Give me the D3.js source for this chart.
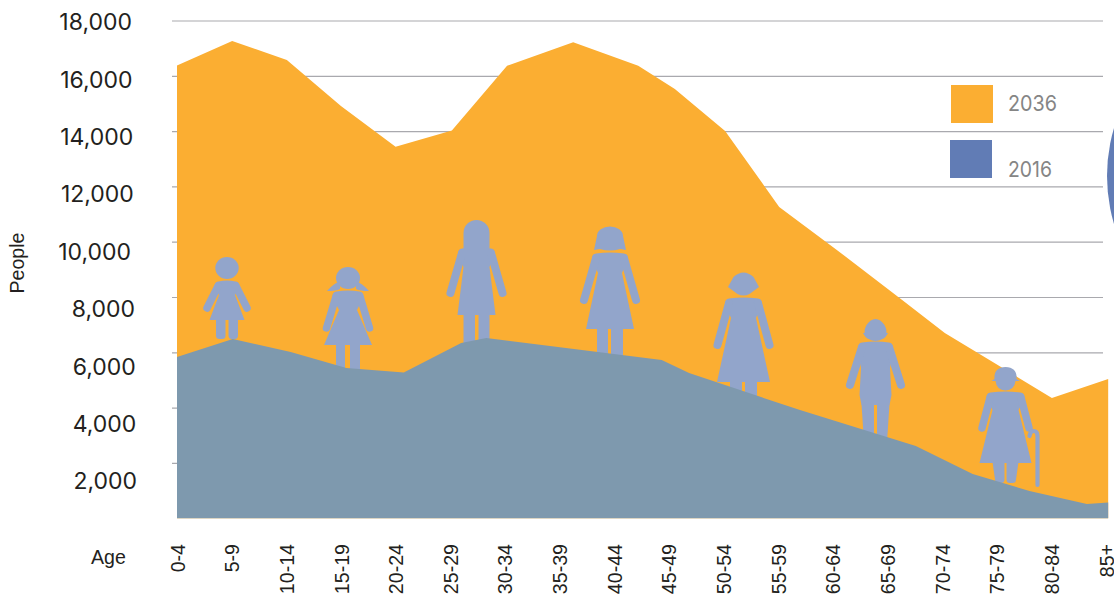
<!DOCTYPE html>
<html>
<head>
<meta charset="utf-8">
<script src="https://cdn.jsdelivr.net/npm/d3@7/dist/d3.min.js"></script>
<style>
html,body{margin:0;padding:0;background:#fff;}
svg{display:block;font-family:"Liberation Sans",Arial,sans-serif;}
</style>
</head>
<body>
<svg id="chart" width="1114" height="599"></svg>
<script>
const ageGroups = ["0-4","5-9","10-14","15-19","20-24","25-29","30-34","35-39","40-44","45-49","50-54","55-59","60-64","65-69","70-74","75-79","80-84","85+"];
const yTicks = [2000,4000,6000,8000,10000,12000,14000,16000,18000];
const series2036Pos = [0,1.01,2.01,3,4,5.03,6.04,7.25,8.44,9.11,10.03,11.02,12.05,13.27,14.05,16.01,17.04];
const series2036Val = [16375,17260,16570,14910,13430,14020,16360,17210,16360,15525,14005,11255,9740,7890,6700,4350,5035];
const series2016Pos = [0,1.02,2.08,3.1,4.15,5.2,5.66,8.87,9.37,11.4,13.52,14.56,15.6,16.65,17.04];
const series2016Val = [5832,6480,6010,5430,5270,6335,6515,5720,5250,3910,2610,1600,985,515,570];
const legendItems = ["2036","2016"];

const C = {orange:"#FBAE32", slate:"#7E99AE", fig:"#92A5CB", blue:"#617CB5", grid:"#A9A9AE", text:"#231F20", legendText:"#858585"};
const svg = d3.select("#chart");

const x = d3.scaleLinear().domain([0,17]).range([177,1106]);
const y = d3.scaleLinear().domain([0,18000]).range([518.2,20.5]);
const yLabel = d3.scaleLinear().domain([2000,18000]).range([481,22]);
const yLabelRight = d3.scaleLinear().domain([2000,18000]).range([137,132]);

// grid
const gridG = svg.append("g").attr("transform","translate(172,0)")
  .call(d3.axisRight(y).tickValues(yTicks).tickSize(931).tickFormat(""));
gridG.select(".domain").remove();
gridG.selectAll("line").attr("stroke",C.grid).attr("stroke-width",1.2);

// y labels
svg.append("g").selectAll("text").data(yTicks).join("text")
  .attr("x",d=>yLabelRight(d)-(d===10000?3.5:0))
  .attr("y",d=>yLabel(d)).attr("dy","0.36em")
  .attr("text-anchor","end").attr("font-size",23).attr("font-family","Inter").attr("fill",C.text)
  .text(d3.format(","));

// big circle at right edge
svg.append("circle").attr("cx",1275).attr("cy",176).attr("r",168).attr("fill",C.blue);

// areas
const area = d3.area().x(d=>x(d[0])).y0(y(0)).y1(d=>y(d[1])).curve(d3.curveLinear);
svg.append("path").datum(d3.zip(series2036Pos,series2036Val)).attr("d",area).attr("fill",C.orange);

// pictograms
const figs = svg.append("g").attr("fill",C.fig);
function body(o){
  const g = figs.append("g").attr("transform",`translate(${o.cx},0)`);
  const [hx,hy]=o.hand,[px,py]=o.pit,[ex,ey]=o.hem,s=o.sy,w=o.sw,a=o.armW;
  const p=d3.path();
  p.moveTo(-w+4,s+0.5);
  p.quadraticCurveTo(0,s-1.5,w-4,s+0.5);
  p.quadraticCurveTo(w,s+1,w,s+6);
  p.lineTo(px,py);
  if(o.hip){o.hip.forEach(h=>p.lineTo(h[0],h[1]));}
  p.lineTo(ex,ey);p.lineTo(-ex,ey);
  if(o.hip){o.hip.slice().reverse().forEach(h=>p.lineTo(-h[0],h[1]));}
  p.lineTo(-px,py);p.lineTo(-w,s+6);
  p.quadraticCurveTo(-w,s+1,-w+4,s+0.5);
  p.closePath();
  g.append("path").attr("d",p.toString());
  [-1,1].forEach(k=>{
    g.append("line").attr("x1",k*(w-a/2)).attr("y1",s+a/2+1).attr("x2",k*hx).attr("y2",hy)
      .attr("stroke",C.fig).attr("stroke-width",a).attr("stroke-linecap","round");
  });
  o.legs.forEach(l=>{
    g.append("path").attr("d",()=>{
      const q=d3.path();
      const r=o.legR||0, t=ey-1, b=o.legBottom;
      q.moveTo(l[0],t);q.lineTo(l[1],t);
      q.lineTo(l[3]!==undefined?l[3]:l[1],b-r);
      if(r)q.quadraticCurveTo(l[3]!==undefined?l[3]:l[1],b,(l[3]!==undefined?l[3]:l[1])-r,b);
      q.lineTo((l[2]!==undefined?l[2]:l[0])+r,b);
      if(r)q.quadraticCurveTo(l[2]!==undefined?l[2]:l[0],b,l[2]!==undefined?l[2]:l[0],b-r);
      q.closePath();return q.toString();
    });
  });
  return g;
}
// child
let g = body({cx:227,sy:281,sw:12.5,hand:[20,308],pit:[8,295],hem:[17.5,320],armW:7.5,legs:[[-11,-1.5],[1.5,11]],legBottom:339,legR:3.5});
g.append("ellipse").attr("cx",0).attr("cy",268).attr("rx",11.7).attr("ry",11);
// girl
g = body({cx:348,sy:291,sw:15.5,hand:[21.5,328],pit:[9,310],hem:[24,345],armW:7.5,legs:[[-12,-3],[2,12]],legBottom:375});
g.append("ellipse").attr("cx",0).attr("cy",278).attr("rx",12).attr("ry",11);
g.append("path").attr("d","M-8,282 Q-13,282 -21,291 Q-12,291 -8,289 Z M8,282 Q13,282 21,291 Q12,291 8,289 Z");
// long hair
g = body({cx:476.5,sy:248,sw:18.5,hand:[26,293],pit:[13,267],hem:[19,315],armW:8,legs:[[-13,-1.5],[2,13]],legBottom:350});
g.append("path").attr("d","M-13,255 L-13,233 A13,13 0 0 1 13,233 L13,255 Z");
// bob
g = body({cx:610,sy:253,sw:18,hand:[26,300],pit:[12,273],hem:[24,329],armW:8,legs:[[-13,-2],[1,13]],legBottom:362});
g.append("path").attr("d","M-16,250 L-13,236 A13,9.5 0 0 1 13,236 L16,250 L10,249 Q0,252 -10,249 Z");
// short hair
g = body({cx:743.5,sy:298,sw:18.5,hand:[26,345],pit:[12.5,318],hem:[26.5,382],armW:8,legs:[[-13.5,-1.5],[1.5,13.5]],legBottom:398});
g.append("path").attr("d","M-15.5,287 L-10,277 Q0,268 10,277 L15.5,287 L6,294 Q0,297 -6,294 Z");
// older person
g = body({cx:875.5,sy:342,sw:17.5,hand:[25.5,385],pit:[14.5,368],hem:[14,405],hip:[[16,395]],armW:8,legs:[[-14,-1.5,-11.5,-1.5],[1.5,14,1.5,11.5]],legBottom:442});
g.append("path").attr("d","M-11,333 Q-11,328 -9,325 Q-5,319 0,319 Q5,319 9,325 Q11,328 11,333 L12.5,333 Q10,338 7,339 Q0,343 -7,339 Q-10,338 -12.5,333 Z");
// elderly person with cane
g = body({cx:1005.5,sy:392,sw:19,hand:[23.5,428],pit:[13,410],hem:[26,463],armW:7.5,legs:[[-13,-1,-10.5,-1],[1,13,1,10.5]],legBottom:483,legR:3.5});
g.append("path").attr("d","M-11,379 Q-12,367.5 0,367 Q12,367.5 11,379 L14.5,381 L10,381 Q9,390 0,390.5 Q-9,390 -10,381 L-14,381 Z");
g.append("path").attr("fill","none").attr("stroke",C.fig).attr("stroke-width",4.2).attr("stroke-linecap","round")
  .attr("d","M24,436 Q25,431 28,431 Q32,431 32,436 L32,485");

svg.append("path").datum(d3.zip(series2016Pos,series2016Val)).attr("d",area).attr("fill",C.slate);

// x labels
const xAxis = svg.append("g").attr("transform","translate(0,544)")
  .call(d3.axisBottom(x).tickValues(d3.range(ageGroups.length)).tickSize(0).tickFormat(i=>ageGroups[i]));
xAxis.select(".domain").remove();
xAxis.selectAll("text")
  .attr("transform","rotate(-90)").attr("text-anchor","end")
  .attr("x",0).attr("y",0).attr("dy","0.36em")
  .attr("font-size",19.6).attr("font-family",'"Liberation Sans",Arial,sans-serif').attr("fill",C.text);

// axis titles
svg.append("text").attr("transform","translate(24,263) rotate(-90)").attr("text-anchor","middle")
  .attr("font-size",19.6).attr("fill",C.text).text("People");
svg.append("text").attr("x",91).attr("y",564).attr("font-size",19.6).attr("fill",C.text).text("Age");

// legend
const legend = svg.append("g");
legend.selectAll("rect").data(legendItems).join("rect")
  .attr("x",(d,i)=>951-i).attr("y",(d,i)=>85+i*55).attr("width",42).attr("height",38)
  .attr("fill",(d,i)=>i?C.blue:C.orange);
legend.selectAll("text").data(legendItems).join("text")
  .attr("x",1008).attr("y",(d,i)=>111+i*66).attr("font-size",22).attr("font-family","Inter")
  .attr("textLength",(d,i)=>i?44:49).attr("lengthAdjust","spacingAndGlyphs")
  .attr("fill",C.legendText).text(d=>d);
</script>
</body>
</html>
